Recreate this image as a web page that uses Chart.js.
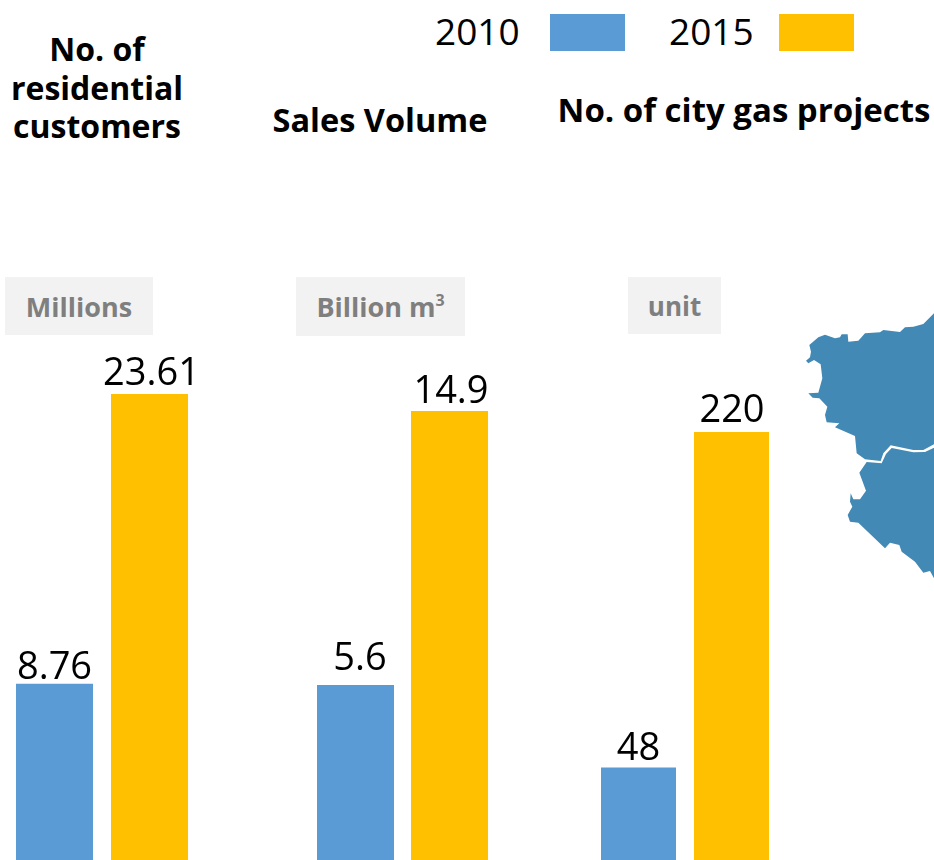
<!DOCTYPE html>
<html><head><meta charset="utf-8">
<script src="https://cdn.jsdelivr.net/npm/chart.js@4"></script>
<style>
html,body{margin:0;padding:0;background:#fff;width:934px;height:860px;overflow:hidden}
body{position:relative;font-family:"Open Sans",sans-serif;color:#000}
canvas{position:absolute;display:block}
.t{position:absolute;font-weight:700;font-size:32px;line-height:38.5px;text-align:center;transform:translateX(-50%);white-space:nowrap}
.u{position:absolute;background:#F2F2F2;color:#7F7F7F;font-weight:700;font-size:27px;display:flex;align-items:center;justify-content:center;box-sizing:border-box}
.u sup{font-size:16px;line-height:0;position:relative;top:-1px;vertical-align:super}
.l{position:absolute;font-size:37px;line-height:40px;top:11px}
.s{position:absolute;top:14px;height:37px;width:75px}
svg{position:absolute;left:790px;top:300px}
</style></head><body>
<div class="l" style="left:435px">2010</div><div class="s" style="left:550px;background:#5B9BD5"></div>
<div class="l" style="left:669px">2015</div><div class="s" style="left:779px;background:#FFC000"></div>
<div class="t" style="left:97px;top:30px">No. of<br>residential<br>customers</div>
<div class="t" style="left:380px;top:101px;font-size:32.5px">Sales Volume</div>
<div class="t" style="left:744px;top:91px;font-size:33px">No. of city gas projects</div>
<div class="u" style="left:5px;top:277px;width:148px;height:58px">Millions</div>
<div class="u" style="left:296px;top:277px;width:169px;height:59px"><span>Billion m<sup>3</sup></span></div>
<div class="u" style="left:628px;top:277px;width:93px;height:57px;font-size:26px">unit</div>
<svg width="144" height="290" viewBox="0 0 432 870" aria-hidden="true"><path fill="#4289B5" d="M432 40L400 72 370 80 345 82 330 96 280 90 270 97 225 100 205 122 175 125 173 103 155 103 150 112 135 115 105 104 85 112 58 135 63 155 60 172 48 182 55 190 72 180 92 193 97 235 85 278 55 280 68 293 88 295 112 320 105 345 110 367 148 370 135 382 195 408 200 460 225 478 272 483 280 460 302 436 370 450 400 450 432 433Z"/><path fill="#4289B5" d="M432 443L405 456 370 457 305 444 288 462 275 490 230 486 208 518 228 572 210 598 190 598 182 580 180 605 187 620 173 645 180 665 205 668 285 745 300 728 328 735 335 755 375 785 400 818 420 813 432 835Z"/></svg>
<canvas id="c1" style="left:7px;top:340px"></canvas>
<canvas id="c2" style="left:308px;top:340px"></canvas>
<canvas id="c3" style="left:592px;top:340px"></canvas>
<script>
const years = ['2010', '2015'];
const customers = [8.76, 23.61];
const customerLabels = ['8.76', '23.61'];
const salesVolume = [5.6, 14.9];
const salesLabels = ['5.6', '14.9'];
const gasProjects = [48, 220];
const projectLabels = ['48', '220'];
const barColors = ['#5B9BD5', '#FFC000'];

const valueLabels = {
  id: 'valueLabels',
  afterDatasetsDraw(chart, args, opts) {
    const { ctx } = chart;
    ctx.save();
    ctx.font = '38px "Open Sans", sans-serif';
    ctx.fillStyle = '#000';
    ctx.textAlign = 'center';
    ctx.textBaseline = 'alphabetic';
    chart.getDatasetMeta(0).data.forEach((bar, i) => {
      ctx.fillText(opts.texts[i], bar.x + opts.dx[i], bar.y - opts.dy[i]);
    });
    ctx.restore();
  }
};

function panel(id, w, values, texts, min, max, barPct, pad, dx, dy) {
  const el = document.getElementById(id);
  el.width = w; el.height = 520;
  el.style.width = w + 'px'; el.style.height = '520px';
  new Chart(el, {
    type: 'bar',
    data: { labels: years, datasets: [{ data: values, base: min, backgroundColor: barColors, borderWidth: 0, barPercentage: barPct, categoryPercentage: 1 }] },
    options: {
      responsive: false, animation: false, devicePixelRatio: 1,
      layout: { padding: pad },
      plugins: { legend: { display: false }, tooltip: { enabled: false }, valueLabels: { texts, dx, dy } },
      scales: {
        x: { display: false },
        y: { display: false, min, max }
      }
    },
    plugins: [valueLabels]
  });
}
panel('c1', 190, customers, customerLabels, -0.26, 26.37, 77/95, 0, [0, 2], [5, 9]);
panel('c2', 189, salesVolume, salesLabels, -0.34, 17.31, 77/94, {left:.5,right:.5}, [4.5, 1.5], [15, 8]);
panel('c3', 186, gasProjects, projectLabels, 0.5, 267.2, 75/93, 0, [0, 0.5], [7, 10]);
</script>
</body></html>
